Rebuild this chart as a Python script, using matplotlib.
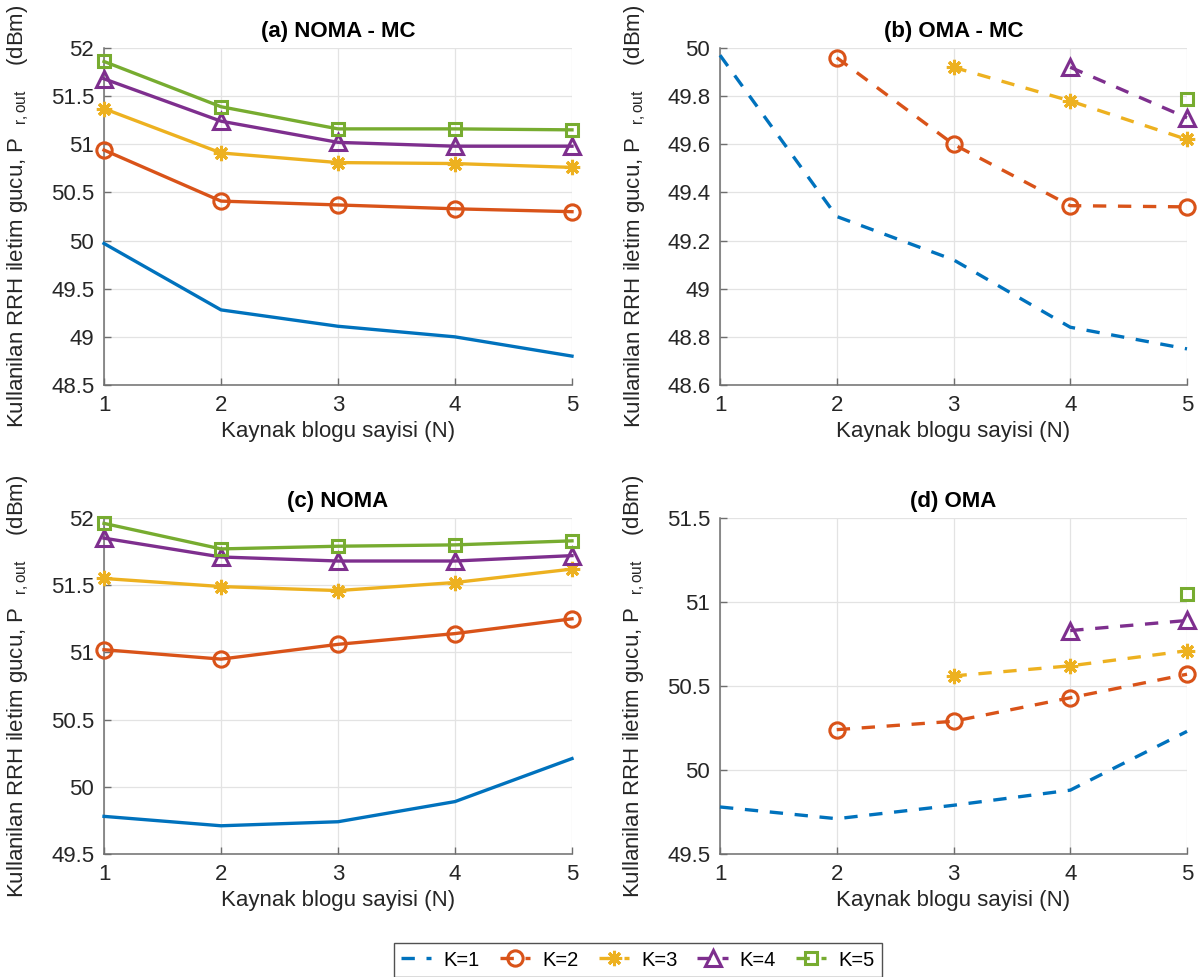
import matplotlib
matplotlib.use("Agg")
import matplotlib.pyplot as plt
import numpy as np

plt.rcParams['font.family'] = ['Liberation Sans', 'DejaVu Sans']
plt.rcParams['mathtext.fontset'] = 'custom'
plt.rcParams['mathtext.rm'] = 'Liberation Sans'
plt.rcParams['mathtext.it'] = 'Liberation Sans'

N = [1, 2, 3, 4, 5]
labels = ['K=1', 'K=2', 'K=3', 'K=4', 'K=5']
colors = ['#0072BD', '#D95319', '#EDB120', '#7E2F8E', '#77AC30']

# (a) NOMA - MC
a_k1 = [49.97, 49.28, 49.11, 49.00, 48.80]
a_k2 = [50.94, 50.41, 50.37, 50.33, 50.30]
a_k3 = [51.37, 50.91, 50.81, 50.80, 50.76]
a_k4 = [51.68, 51.24, 51.02, 50.98, 50.98]
a_k5 = [51.86, 51.39, 51.16, 51.16, 51.15]

# (b) OMA - MC (None = not defined)
b_k1 = [49.97, 49.30, 49.12, 48.84, 48.75]
b_k2 = [None, 49.96, 49.60, 49.345, 49.34]
b_k3 = [None, None, 49.92, 49.78, 49.62]
b_k4 = [None, None, None, 49.92, 49.71]
b_k5 = [None, None, None, None, 49.79]

# (c) NOMA
c_k1 = [49.78, 49.71, 49.74, 49.89, 50.21]
c_k2 = [51.02, 50.95, 51.06, 51.14, 51.25]
c_k3 = [51.55, 51.49, 51.46, 51.52, 51.62]
c_k4 = [51.85, 51.71, 51.68, 51.68, 51.72]
c_k5 = [51.96, 51.77, 51.79, 51.80, 51.83]

# (d) OMA
d_k1 = [49.78, 49.71, 49.79, 49.88, 50.23]
d_k2 = [None, 50.24, 50.29, 50.43, 50.57]
d_k3 = [None, None, 50.56, 50.62, 50.71]
d_k4 = [None, None, None, 50.83, 50.89]
d_k5 = [None, None, None, None, 51.05]

titles = ['(a) NOMA - MC', '(b) OMA - MC', '(c) NOMA', '(d) OMA']
ylims = [(48.5, 52), (48.6, 50), (49.5, 52), (49.5, 51.5)]
yticks = [np.arange(48.5, 52.01, 0.5), np.arange(48.6, 50.01, 0.2),
          np.arange(49.5, 52.01, 0.5), np.arange(49.5, 51.51, 0.5)]
ytick_labels = [['48.5', '49', '49.5', '50', '50.5', '51', '51.5', '52'],
                ['48.6', '48.8', '49', '49.2', '49.4', '49.6', '49.8', '50'],
                ['49.5', '50', '50.5', '51', '51.5', '52'],
                ['49.5', '50', '50.5', '51', '51.5']]
data = [[a_k1, a_k2, a_k3, a_k4, a_k5],
        [b_k1, b_k2, b_k3, b_k4, b_k5],
        [c_k1, c_k2, c_k3, c_k4, c_k5],
        [d_k1, d_k2, d_k3, d_k4, d_k5]]
dashed = [False, True, False, True]

markers = [None, 'o', (8, 2, 0), '^', 's']
msizes = [0, 11, 11, 12, 8]

W, H = 1199, 977
fig = plt.figure(figsize=(W / 100, H / 100), dpi=100)

positions = [(104, 48, 468, 337), (720, 48, 467, 337),
             (104, 518, 468, 336), (720, 518, 467, 336)]

ylabel = r'Kullanilan RRH iletim gucu, P$\ \ {}_{\mathrm{r,out}}\ \ \ \ $(dBm)'
handles = []
for i, (l, t, w, h) in enumerate(positions):
    ax = fig.add_axes([l / W, 1 - (t + h) / H, w / W, h / H])
    for k in range(5):
        y = np.array([np.nan if v is None else v for v in data[i][k]], dtype=float)
        ls = (0, (4, 3.5)) if dashed[i] else '-'
        line, = ax.plot(N, y, linestyle=ls, color=colors[k], lw=2.4,
                        marker=markers[k], ms=msizes[k], mfc='none',
                        mec=colors[k], mew=2.2, clip_on=False, label=labels[k],
                        zorder=3)
        if i == 1:
            handles.append(line)
    ax.set_xlim(1, 5)
    ax.set_ylim(*ylims[i])
    ax.set_xticks(N)
    ax.set_xticklabels([str(n) for n in N])
    ax.set_yticks(yticks[i])
    ax.set_yticklabels(ytick_labels[i])
    ax.grid(True, color='#e3e3e3', lw=0.9)
    ax.set_axisbelow(True)
    for s in ['top', 'right']:
        ax.spines[s].set_visible(False)
    for s in ['left', 'bottom']:
        ax.spines[s].set_color('#6e6e6e')
        ax.spines[s].set_linewidth(1.1)
    ax.tick_params(direction='in', length=5, width=1, color='#6e6e6e',
                   labelsize=16, labelcolor='#262626', pad=7)
    ax.set_title(titles[i], fontsize=16, fontweight='bold', pad=8)
    ax.set_xlabel('Kaynak blogu sayisi (N)', fontsize=16, color='#262626', labelpad=4)
    ax.set_ylabel(ylabel, fontsize=16, color='#262626', labelpad=14)

leg = fig.legend(handles=handles, labels=labels, loc='center',
                 bbox_to_anchor=(638 / W, 1 - 960 / H), ncol=5, fontsize=14.5,
                 frameon=True, fancybox=False, edgecolor='#262626',
                 handlelength=1.5, columnspacing=1.0, handletextpad=0.6,
                 borderpad=0.35)
leg.get_frame().set_linewidth(1.0)

fig.savefig('out.png', dpi=100)
